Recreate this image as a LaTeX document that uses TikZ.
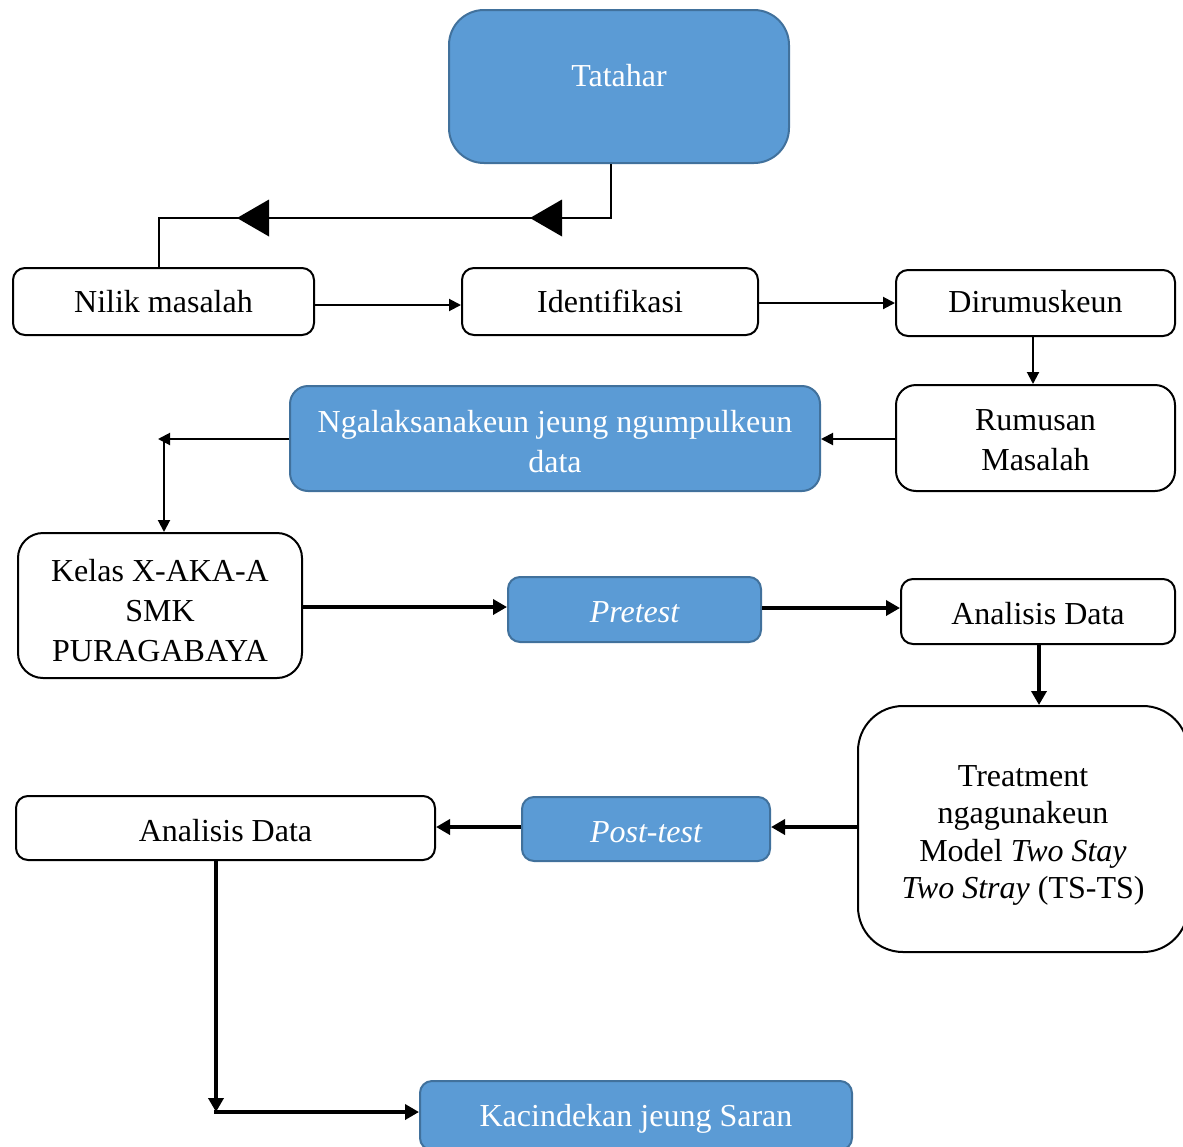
\documentclass[tikz,border=0pt]{standalone}
\usepackage{fontspec}
\setmainfont{Liberation Serif}
\usetikzlibrary{arrows.meta}
\definecolor{boxblue}{HTML}{5B9BD5}
\definecolor{boxedge}{HTML}{41719C}
\newcommand\lowr[2]{\raisebox{-#1}[\height][\depth]{\begin{tabular}{@{}c@{}}#2\end{tabular}}}
\begin{document}
\begin{tikzpicture}[x=1pt,y=-1pt,font=\fontsize{32}{40}\selectfont,
  wbox/.style={draw=black, line width=2pt, fill=white, rounded corners=12pt, inner sep=0pt, align=center},
  bbox/.style={draw=boxedge, line width=2pt, fill=boxblue, text=white, rounded corners=12pt, inner sep=0pt, align=center},
  thinarrow/.style={line width=2pt, -{Triangle[length=12pt,width=12pt]}},
  thickarrow/.style={line width=3.5pt, -{Triangle[length=14pt,width=15pt]}},
  plainline/.style={line width=2pt}]
\useasboundingbox (0,0) rectangle (1183,1146);

\node[bbox, rounded corners=35pt, minimum width=340pt, minimum height=153pt] (tat) at (619,86.5) {\raisebox{11pt}[\height][\depth]{Tatahar}};
\node[wbox, minimum width=301pt, minimum height=67pt] (nilik) at (163.5,301.5) {Nilik masalah};
\node[wbox, minimum width=296pt, minimum height=67pt] (iden) at (610,301.5) {Identifikasi};
\node[wbox, minimum width=279pt, minimum height=66pt] (diru) at (1035.5,303) {\lowr{1.5pt}{Dirumuskeun}};
\node[wbox, rounded corners=20pt, minimum width=279pt, minimum height=106pt] (rumus) at (1035.5,438) {\lowr{4pt}{Rumusan\\Masalah}};
\node[bbox, rounded corners=18pt, minimum width=530pt, minimum height=105pt] (ngal) at (555,438.5) {\lowr{6pt}{Ngalaksanakeun jeung ngumpulkeun\\data}};
\node[wbox, rounded corners=25pt, minimum width=284pt, minimum height=145pt] (kelas) at (160,605.5) {\lowr{8pt}{Kelas X-AKA-A\\SMK\\PURAGABAYA}};
\node[bbox, minimum width=253pt, minimum height=65pt] (pre) at (634.5,609.5) {\lowr{5pt}{\itshape Pretest}};
\node[wbox, minimum width=274pt, minimum height=65pt] (anaA) at (1038,611.5) {\lowr{5pt}{Analisis Data}};
\node[wbox, rounded corners=45pt, minimum width=330pt, minimum height=246pt, font=\fontsize{32}{37.5}\selectfont] (treat) at (1023,829) {\lowr{6pt}{Treatment\\ngagunakeun\\Model \textit{Two Stay}\\\textit{Two Stray} (TS-TS)}};
\node[wbox, minimum width=419pt, minimum height=64pt] (anaB) at (225.5,828) {\lowr{5pt}{Analisis Data}};
\node[bbox, minimum width=248pt, minimum height=64pt] (post) at (646,829) {\lowr{5pt}{\itshape Post-test}};
\node[bbox, minimum width=432pt, minimum height=69pt] (kac) at (636,1115.5) {\lowr{3pt}{Kacindekan jeung Saran}};

% top connector with large mid-line triangles
\coordinate (j1) at (159,218);
\draw[plainline] ([xshift=-8pt]tat.south) |- (j1) -- (j1 |- nilik.north);
\fill (237,218) -- (269,199.5) -- (269,236.5) -- cycle;
\fill (530,218) -- (562,199.5) -- (562,236.5) -- cycle;

\draw[thinarrow] (nilik.east |- 0,305) -- (iden.west |- 0,305);
\draw[thinarrow] (iden.east |- 0,303) -- (diru.west |- 0,303);
\draw[thinarrow] (diru.south -| 1033,0) -- (rumus.north -| 1033,0);
\draw[thinarrow] (rumus.west |- 0,439) -- (ngal.east |- 0,439);
\draw[thinarrow] (ngal.west |- 0,439) -- (158,439);
\coordinate (k1) at (164,441);
\draw[thinarrow] (k1) -- (k1 |- kelas.north);

\draw[thickarrow] (kelas.east |- 0,607) -- (pre.west |- 0,607);
\draw[thickarrow] (pre.east |- 0,608) -- (anaA.west |- 0,608);
\draw[thickarrow] (anaA.south -| 1039,0) -- (treat.north -| 1039,0);
\draw[thickarrow] (treat.west |- 0,827) -- (post.east |- 0,827);
\draw[thickarrow] (post.west |- 0,827) -- (anaB.east |- 0,827);
\coordinate (b1) at (216,1112);
\draw[thickarrow] (anaB.south -| b1) -- (b1);
\draw[thickarrow] ([xshift=-1.75pt]b1) -- (b1 -| kac.west);
\end{tikzpicture}
\end{document}
